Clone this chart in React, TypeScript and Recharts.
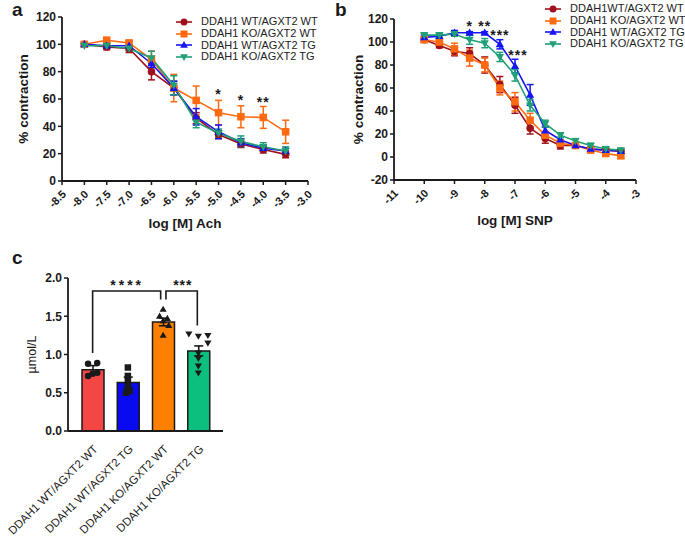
import React from 'react';
import { ComposedChart, Line, Bar, Scatter, XAxis, YAxis, ErrorBar, Legend, Label, Cell } from 'recharts';

const FONT = '"Liberation Sans", Arial, Helvetica, sans-serif';
const INK = '#1a1a1a';

// ---------- Panel a : Ach ----------
const achDose = [-8, -7.5, -7, -6.5, -6, -5.5, -5, -4.5, -4, -3.5];
const achWtWt = [100, 98, 97, 80, 68, 46, 34, 27, 23, 19.5];
const achWtWtErr = [1.5, 2, 3, 6, 5, 4, 3, 2.5, 2.5, 2.5];
const achKoWt = [100, 103, 101, 89, 68, 59, 50, 47, 46.5, 36];
const achKoWtErr = [1.5, 2, 2, 6, 10, 10.5, 9, 8, 8, 8.5];
const achWtTg = [100, 99, 99, 86, 68, 47, 36, 28, 24, 22];
const achWtTgErr = [1, 2, 3, 3, 5, 6, 5, 3, 2, 2];
const achKoTg = [99, 99, 97, 90, 70, 43, 35, 29, 25, 22];
const achKoTgErr = [1, 1.5, 2, 5, 7, 4, 3, 4, 3, 3];
const achXTicks = [-8.5, -8, -7.5, -7, -6.5, -6, -5.5, -5, -4.5, -4, -3.5, -3];
const achYTicks = [0, 20, 40, 60, 80, 100, 120];
const achStarX = [-5, -4.5, -4];
const achStarY = [66, 61, 60];
const achStarText = ['*', '*', '**'];
const achNames = ['DDAH1 WT/AGXT2 WT', 'DDAH1 KO/AGXT2 WT', 'DDAH1 WT/AGXT2 TG', 'DDAH1 KO/AGXT2 TG'];

// ---------- Panel b : SNP ----------
const snpDose = [-10, -9.5, -9, -8.5, -8, -7.5, -7, -6.5, -6, -5.5, -5, -4.5, -4, -3.5];
const snpWtWt = [102, 97, 92, 90, 80, 63, 45, 25, 16, 10, 10, 7, 6, 5];
const snpWtWtErr = [2, 2, 4, 5, 7, 7, 7, 5, 4, 3, 2, 2, 2, 2];
const snpKoWt = [102, 100, 94, 86, 80, 60, 48, 32, 19, 12, 10, 6, 3, 1];
const snpKoWtErr = [2, 2, 5, 7, 6, 6, 8, 6, 3, 3, 2, 2, 2, 2];
const snpWtTg = [104, 105, 108, 108, 108, 98, 79, 54, 23, 15, 10, 7, 6, 5];
const snpWtTgErr = [2, 2, 2, 1, 1, 4, 6, 9, 3, 2, 2, 2, 1, 1];
const snpKoTg = [106, 106, 107, 102, 99, 87, 71, 45, 29, 19, 14, 10, 7, 6];
const snpKoTgErr = [2, 2, 2, 4, 4, 4, 5, 5, 3, 2, 2, 2, 2, 1];
const snpXTicks = [-11, -10, -9, -8, -7, -6, -5, -4, -3];
const snpYTicks = [-20, 0, 20, 40, 60, 80, 100, 120];
const snpStarX = [-8.5, -8, -7.5, -6.9];
const snpStarY = [116.5, 116.5, 108.5, 91];
const snpStarText = ['*', '**', '***', '***'];
const snpNames = ['DDAH1WT/AGXT2 WT', 'DDAH1 KO/AGXT2 WT', 'DDAH1 WT/AGXT2 TG', 'DDAH1 KO/AGXT2 TG'];

// ---------- Panel c : plasma levels ----------
const groupLabels = ['DDAH1 WT/AGXT2 WT', 'DDAH1 WT/AGXT2 TG', 'DDAH1 KO/AGXT2 WT', 'DDAH1 KO/AGXT2 TG'];
const groupMeans = [0.8, 0.635, 1.425, 1.047];
const groupSem = [0.055, 0.07, 0.05, 0.065];
const ptsWtWt = [0.88, 0.89, 0.72, 0.76, 0.75];
const ptsWtTg = [0.83, 0.72, 0.65, 0.58, 0.5, 0.52];
const ptsKoWt = [1.59, 1.5, 1.47, 1.44, 1.38, 1.25];
const ptsKoTg = [1.27, 1.24, 1.25, 1.15, 1.02, 0.95, 0.85, 0.76];
const cYTicks = [0, 0.5, 1, 1.5, 2];
const bracketLeft = [{ x: 0, y: 1.02 }, { x: 0, y: 1.83 }, { x: 1.93, y: 1.83 }, { x: 1.93, y: 1.72 }];
const bracketRight = [{ x: 2.08, y: 1.72 }, { x: 2.08, y: 1.83 }, { x: 2.97, y: 1.83 }, { x: 2.97, y: 1.38 }];
const cStarX = [0.98, 2.56];
const cStarY = [1.94, 1.94];
const cStarText = ['****', '***'];

// ---------- styles ----------
const lineColors = ['#A0101A', '#FF6A10', '#1515F5', '#1FA077'];
const barColors = ['#F54646', '#0A0AF0', '#FF8000', '#0DBF7E'];
type Kind = 'circle' | 'square' | 'up' | 'down';
const kinds: Kind[] = ['circle', 'square', 'up', 'down'];
const JITTER = [
  [-0.13, 0.13, -0.13, 0.13, 0],
  [0, 0, 0, 0, -0.05, 0.05],
  [0, -0.1, 0.12, 0, 0.16, 0],
  [-0.27, 0, 0.27, 0.27, 0, 0, 0, 0],
];

function Marker({ kind, cx, cy, color, s }: { kind: Kind; cx: number; cy: number; color: string; s: number }) {
  if (cx == null || cy == null || isNaN(cx) || isNaN(cy)) return null;
  if (kind === 'circle') return <circle cx={cx} cy={cy} r={s / 2} fill={color} />;
  if (kind === 'square') return <rect x={cx - s / 2} y={cy - s / 2} width={s} height={s} fill={color} />;
  const h = s * 0.95;
  const w = s * 1.1;
  if (kind === 'up')
    return <polygon points={`${cx},${cy - h * 0.6} ${cx + w / 2},${cy + h * 0.4} ${cx - w / 2},${cy + h * 0.4}`} fill={color} />;
  return <polygon points={`${cx},${cy + h * 0.6} ${cx + w / 2},${cy - h * 0.4} ${cx - w / 2},${cy - h * 0.4}`} fill={color} />;
}

function RotTick(props: any) {
  const { x, y, payload, fmt, fs, ox, oy, weight } = props;
  const tx = x + ox;
  const ty = y + oy;
  return (
    <text x={tx} y={ty} transform={`rotate(-45 ${tx} ${ty})`} textAnchor="end" dominantBaseline="central"
      fontSize={fs} fontWeight={weight} fontFamily={FONT} fill={INK}>
      {fmt(payload.value)}
    </text>
  );
}

function LegendBox({ names, gap }: { names: string[]; gap: number }) {
  return (
    <div style={{ fontFamily: FONT, fontSize: 11, color: '#222' }}>
      {names.map((n, i) => (
        <div key={n} style={{ display: 'flex', alignItems: 'center', height: 11.8, whiteSpace: 'nowrap' }}>
          <svg width={16} height={10} style={{ flex: 'none' }}>
            <line x1={0} y1={5} x2={16} y2={5} stroke={lineColors[i]} strokeWidth={1.6} />
            <Marker kind={kinds[i]} cx={8} cy={5} color={lineColors[i]} s={7} />
          </svg>
          <span style={{ marginLeft: gap, lineHeight: '11.8px' }}>{n}</span>
        </div>
      ))}
    </div>
  );
}

const yTitle = (text: string, cx: number, size: number, weight: string) => (p: any) => {
  const vb = p.viewBox || {};
  const cy = vb.y + vb.height / 2;
  return (
    <text x={cx} y={cy} transform={`rotate(-90 ${cx} ${cy})`} textAnchor="middle" dominantBaseline="central"
      fontSize={size} fontWeight={weight} fontFamily={FONT} fill={INK}>{text}</text>
  );
};

const starShape = (fs: number) => (p: any) => (
  <text x={p.cx} y={p.cy} dy="0.55em" textAnchor="middle" fontSize={fs} fontWeight="bold" fontFamily={FONT}
    fill={INK} letterSpacing={p.payload.t.length > 3 ? 3 : 1}>{p.payload.t}</text>
);

const achData = achDose.map((x, i) => ({
  x,
  s0: achWtWt[i], e0: achWtWtErr[i],
  s1: achKoWt[i], e1: achKoWtErr[i],
  s2: achWtTg[i], e2: achWtTgErr[i],
  s3: achKoTg[i], e3: achKoTgErr[i],
}));
const snpData = snpDose.map((x, i) => ({
  x,
  s0: snpWtWt[i], e0: snpWtWtErr[i],
  s1: snpKoWt[i], e1: snpKoWtErr[i],
  s2: snpWtTg[i], e2: snpWtTgErr[i],
  s3: snpKoTg[i], e3: snpKoTgErr[i],
}));
const achStars = achStarX.map((x, i) => ({ x, y: achStarY[i], t: achStarText[i] }));
const snpStars = snpStarX.map((x, i) => ({ x, y: snpStarY[i], t: snpStarText[i] }));
const barData = groupLabels.map((name, i) => ({ name, mean: groupMeans[i], sem: groupSem[i] }));
const groupPoints = [ptsWtWt, ptsWtTg, ptsKoWt, ptsKoTg].map((pts, g) =>
  pts.map((v, k) => ({ x: g + (JITTER[g][k] || 0), v }))
);
const cStars = cStarX.map((x, i) => ({ x, y: cStarY[i], t: cStarText[i] }));

const axisLine = { stroke: INK, strokeWidth: 1.8 };
const tickLine = { stroke: INK, strokeWidth: 1.5 };
const yTick = { fontSize: 12, fontWeight: 'bold', fill: INK, fontFamily: FONT };

function seriesLines(prefix: string) {
  return [0, 1, 2, 3].map((i) => (
    <Line key={prefix + i} dataKey={'s' + i} stroke={lineColors[i]} strokeWidth={1.6} isAnimationActive={false}
      activeDot={false}
      dot={(p: any) => <Marker key={`${prefix}${i}-${p.index}`} kind={kinds[i]} cx={p.cx} cy={p.cy} color={lineColors[i]} s={7.5} />}>
      <ErrorBar dataKey={'e' + i} width={3.5} stroke={lineColors[i]} strokeWidth={1.5} direction="y" />
    </Line>
  ));
}

function PanelA() {
  return (
    <ComposedChart width={340} height={240} data={achData} margin={{ top: 17, right: 32, bottom: 0, left: 0 }}>
      <XAxis dataKey="x" type="number" domain={[-8.5, -3]} ticks={achXTicks} interval={0} allowDataOverflow
        height={59} axisLine={axisLine} tickLine={tickLine} tickSize={4} tickMargin={2}
        tick={<RotTick fmt={(v: number) => v.toFixed(1)} fs={11} ox={2} oy={5} weight="bold" />}>
        <Label position="insideBottom" offset={12} value="log [M] Ach" fontSize={13.5} fontWeight="bold" fontFamily={FONT} fill={INK} />
      </XAxis>
      <YAxis type="number" domain={[0, 120]} ticks={achYTicks} interval={0} width={62} axisLine={axisLine}
        tickLine={tickLine} tickSize={4} tickMargin={2} tick={yTick}>
        <Label content={yTitle('% contraction', 23, 13.5, 'bold')} />
      </YAxis>
      {seriesLines('a')}
      <Scatter data={achStars} dataKey="y" isAnimationActive={false} shape={starShape(14)} />
      <Legend content={() => <LegendBox names={achNames} gap={9} />} layout="vertical" align="center" verticalAlign="middle"
        wrapperStyle={{ left: 176, top: 16, width: 164, height: 48 }} />
    </ComposedChart>
  );
}

function PanelB() {
  return (
    <ComposedChart width={345} height={240} data={snpData} margin={{ top: 19, right: 49, bottom: 0, left: 0 }}>
      <XAxis dataKey="x" type="number" domain={[-11, -3]} ticks={snpXTicks} interval={0} allowDataOverflow
        height={60} axisLine={axisLine} tickLine={tickLine} tickSize={4} tickMargin={2}
        tick={<RotTick fmt={(v: number) => String(v)} fs={11} ox={2} oy={5} weight="bold" />}>
        <Label position="insideBottom" offset={15} value="log [M] SNP" fontSize={13.5} fontWeight="bold" fontFamily={FONT} fill={INK} />
      </XAxis>
      <YAxis type="number" domain={[-20, 120]} ticks={snpYTicks} interval={0} width={54} axisLine={axisLine}
        tickLine={tickLine} tickSize={4} tickMargin={2} tick={yTick}>
        <Label content={yTitle('% contraction', 18, 13.5, 'bold')} />
      </YAxis>
      {seriesLines('b')}
      <Scatter data={snpStars} dataKey="y" isAnimationActive={false} shape={starShape(14)} />
      <Legend content={() => <LegendBox names={snpNames} gap={9} />} layout="vertical" align="center" verticalAlign="middle"
        wrapperStyle={{ left: 205, top: 3, width: 140, height: 48 }} />
    </ComposedChart>
  );
}

function PanelC() {
  return (
    <ComposedChart width={260} height={278} data={barData} margin={{ top: 18, right: 37, bottom: 0, left: 0 }}>
      <XAxis dataKey="name" type="category" height={107} axisLine={axisLine} tickLine={false} padding={{ left: 7, right: 7 }}
        interval={0} tick={<RotTick fmt={(v: string) => v} fs={11.4} ox={3} oy={8} weight="normal" />} />
      <XAxis xAxisId="num" dataKey="x" type="number" domain={[-0.5, 3.5]} allowDataOverflow hide padding={{ left: 7, right: 7 }} />
      <YAxis type="number" domain={[0, 2]} ticks={cYTicks} interval={0} width={68} axisLine={axisLine}
        tickLine={tickLine} tickSize={4} tickMargin={2} tick={yTick} tickFormatter={(v: number) => v.toFixed(1)}>
        <Label content={yTitle('µmol/L', 32, 12.5, 'normal')} />
      </YAxis>
      <Bar dataKey="mean" barSize={22} stroke={INK} strokeWidth={1.5} isAnimationActive={false}>
        {barData.map((d, i) => <Cell key={d.name} fill={barColors[i]} />)}
        <ErrorBar dataKey="sem" width={4.5} stroke={INK} strokeWidth={1.6} direction="y" />
      </Bar>
      {groupPoints.map((pts, g) => (
        <Scatter key={'p' + g} xAxisId="num" data={pts} dataKey="v" isAnimationActive={false}
          shape={(p: any) => <Marker kind={kinds[g]} cx={p.cx} cy={p.cy} color={INK} s={6.5} />} />
      ))}
      <Line xAxisId="num" data={bracketLeft} dataKey="y" stroke={INK} strokeWidth={1.6} dot={false} activeDot={false} isAnimationActive={false} />
      <Line xAxisId="num" data={bracketRight} dataKey="y" stroke={INK} strokeWidth={1.6} dot={false} activeDot={false} isAnimationActive={false} />
      <Scatter xAxisId="num" data={cStars} dataKey="y" isAnimationActive={false} shape={starShape(14)} />
    </ComposedChart>
  );
}

export default function App() {
  return (
    <div style={{ position: 'absolute', left: 0, top: 0, width: 685, height: 538, overflow: 'hidden', background: '#fff', fontFamily: FONT }}>
      <div style={{ position: 'absolute', left: 0, top: 0 }}><PanelA /></div>
      <div style={{ position: 'absolute', left: 340, top: 0 }}><PanelB /></div>
      <div style={{ position: 'absolute', left: 0, top: 260 }}><PanelC /></div>
      <svg width={685} height={538} style={{ position: 'absolute', left: 0, top: 0, pointerEvents: 'none' }}>
        <text x={12} y={16} fontSize={19} fontWeight="bold" fontFamily={FONT} fill={INK}>a</text>
        <text x={335} y={16} fontSize={19} fontWeight="bold" fontFamily={FONT} fill={INK}>b</text>
        <text x={12} y={264} fontSize={19} fontWeight="bold" fontFamily={FONT} fill={INK}>c</text>
      </svg>
    </div>
  );
}
